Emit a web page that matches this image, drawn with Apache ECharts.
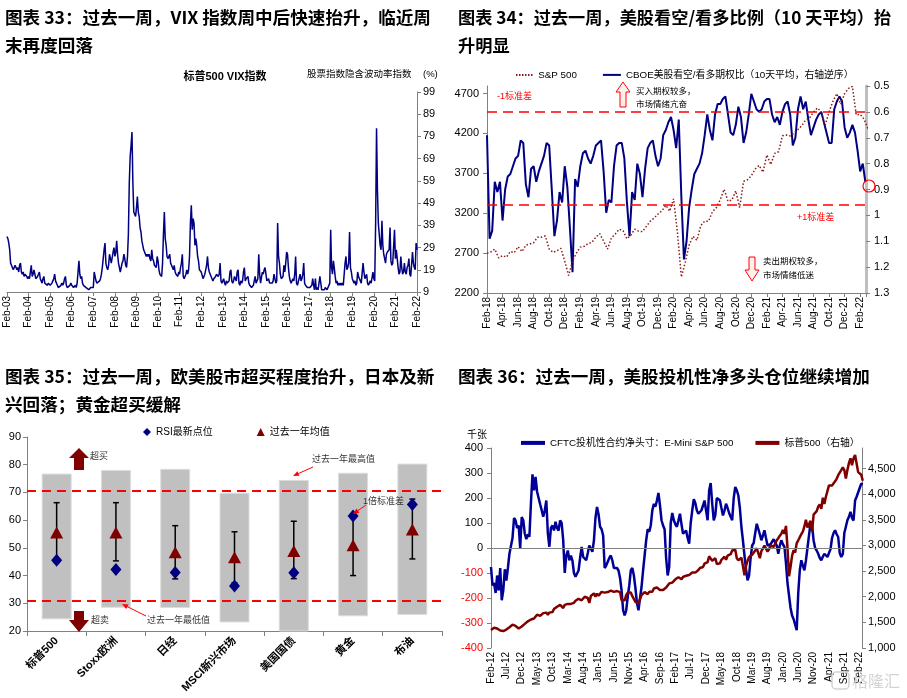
<!DOCTYPE html>
<html><head><meta charset="utf-8">
<script src="https://cdn.jsdelivr.net/npm/echarts@6/dist/echarts.min.js"></script>
<style>html,body{margin:0;padding:0;background:#fff}#c{width:907px;height:698px}</style>
</head><body><div id="c"></div>
<script>
// ---------------- DATA ----------------
// Panel 33: VIX, semi-monthly samples from Feb-03 (step 0.5 month)
const vixTicks = ['Feb-03','Feb-04','Feb-05','Feb-06','Feb-07','Feb-08','Feb-09','Feb-10','Feb-11','Feb-12','Feb-13','Feb-14','Feb-15','Feb-16','Feb-17','Feb-18','Feb-19','Feb-20','Feb-21','Feb-22'];
const vix = [
34,33,31,28,22,21,20,19,20,21,21,19,20,18,21,22,18,17,18,16,17,17,16,15,
16,15,18,21,16,17,19,17,15,15,16,17,18,15,14,13,15,16,13,13,13,12,13,13,
12,12,13,14,15,17,14,13,12,11,11,11,12,13,12,13,15,16,12,11,11,11,12,13,
12,12,11,11,12,11,13,18,23,17,15,16,13,12,12,12,11,11,11,10,10,11,11,11,
11,18,16,14,13,13,13,14,15,17,20,24,28,31,22,20,19,21,26,24,22,22,27,29,
25,27,32,26,22,20,18,18,22,23,26,24,21,20,25,35,58,70,75,81,58,45,45,43,
47,52,45,43,38,36,32,30,28,27,26,25,26,25,26,24,23,28,24,23,21,21,20,25,
23,19,17,17,16,22,35,45,33,30,25,24,25,26,22,22,20,19,21,18,17,17,16,18,
17,20,22,26,16,15,16,17,19,17,19,25,40,48,37,42,40,30,33,30,25,23,19,19,
18,18,15,15,17,19,21,25,20,18,17,16,15,14,15,15,16,17,17,16,17,22,14,13,
13,15,13,12,14,13,13,14,18,19,14,13,14,16,16,14,18,19,13,12,14,13,14,18,
20,14,15,15,16,13,12,12,11,11,12,14,16,13,13,15,26,17,13,13,18,17,19,20,
17,14,14,15,13,13,13,13,14,17,15,13,14,40,25,22,17,15,15,16,21,18,22,27,
26,20,16,14,13,13,15,14,17,25,13,12,12,12,17,14,15,17,22,13,12,12,11,11,
11,11,11,12,15,12,10,15,10,11,10,10,16,13,10,10,10,10,11,11,10,10,10,13,
37,20,17,23,20,16,13,14,12,13,12,13,12,13,12,12,22,25,19,20,22,36,20,18,
15,14,13,14,12,13,18,16,15,14,13,13,22,18,15,15,17,13,12,12,14,13,13,18,
15,14,40,82.7,55,40,35,30,28,41,30,26,24,22,26,27,27,28,38,23,21,22,22,37,
24,28,24,20,17,18,25,20,17,18,22,18,17,20,21,24,17,16,16,27,22,20,19,31,
28];

// S&P 500, semi-monthly from Feb-12 (step 0.5 month) - used in panels 34 and 36
const sp500 = [
1350,1365,1395,1405,1380,1400,1340,1310,1330,1360,1360,1385,1405,1410,1455,1445,1430,1410,1380,1410,1420,1420,
1470,1500,1520,1515,1555,1565,1575,1590,1650,1650,1625,1605,1680,1690,1690,1650,1690,1690,1700,1760,1790,1805,1780,1840,
1840,1780,1840,1855,1860,1870,1860,1880,1880,1920,1950,1960,1975,1930,1955,2000,1990,1975,1880,2015,2040,2065,2000,2060,
2020,1995,2095,2105,2080,2070,2090,2090,2120,2110,2095,2065,2110,2100,2090,1930,1960,1930,2030,2080,2060,2080,2010,2045,
1900,1930,1870,1950,2030,2060,2090,2070,2050,2095,2080,2095,2160,2170,2180,2170,2130,2165,2130,2125,2180,2200,2260,2240,
2275,2280,2340,2365,2380,2360,2340,2385,2395,2410,2435,2425,2460,2470,2470,2470,2500,2520,2560,2575,2580,2645,2680,2675,
2790,2825,2700,2715,2750,2640,2670,2650,2720,2705,2780,2720,2800,2815,2830,2900,2900,2915,2750,2710,2730,2760,2600,2420,
2600,2700,2775,2785,2820,2835,2900,2945,2850,2750,2890,2940,3000,2980,2880,2925,3000,2975,2970,3035,3100,3140,3190,3230,
3300,3225,3380,2955,2400,2585,2800,2910,2860,3045,3100,3100,3220,3270,3370,3500,3350,3365,3480,3270,3600,3620,3670,3755,
3800,3715,3930,3810,3950,3970,4170,4180,4170,4205,4250,4300,4370,4395,4470,4520,4470,4305,4470,4605,4700,4565,4700,4765,
4790,4430,4440,4380,4260];

// Panel 34: CBOE put/call ratio (10d avg), from Feb-18, step 1/3 month
const pcTicks = ['Feb-18','Apr-18','Jun-18','Aug-18','Oct-18','Dec-18','Feb-19','Apr-19','Jun-19','Aug-19','Oct-19','Dec-19','Feb-20','Apr-20','Jun-20','Aug-20','Oct-20','Dec-20','Feb-21','Apr-21','Jun-21','Aug-21','Oct-21','Dec-21','Feb-22'];
const pcRatio = [
0.69,1.09,1.06,0.87,0.91,0.87,1.02,0.90,0.85,0.84,
0.81,0.78,0.77,0.71,0.72,0.88,0.93,0.82,0.81,0.87,
0.83,0.80,0.77,0.72,0.73,0.90,1.08,1.02,0.91,0.95,
0.81,0.89,1.05,1.22,0.86,0.89,0.81,0.76,0.75,0.78,
0.80,0.77,0.73,0.72,0.71,0.83,0.99,0.94,0.95,0.81,
0.73,0.72,0.72,0.78,0.95,1.08,0.91,0.94,0.80,0.84,
0.93,0.82,0.74,0.72,0.71,0.77,0.81,0.78,0.69,0.67,
0.64,0.62,0.67,0.74,0.63,0.93,1.17,1.10,0.97,0.90,
0.84,0.82,0.80,0.76,0.69,0.61,0.67,0.71,0.61,0.57,
0.57,0.55,0.54,0.61,0.68,0.69,0.65,0.58,0.62,0.72,
0.68,0.61,0.53,0.56,0.59,0.60,0.59,0.56,0.55,0.55,
0.61,0.64,0.62,0.65,0.60,0.57,0.56,0.61,0.73,0.70,
0.59,0.54,0.59,0.56,0.63,0.69,0.66,0.63,0.61,0.60,
0.64,0.68,0.72,0.72,0.59,0.56,0.54,0.56,0.66,0.70,
0.68,0.65,0.68,0.75,0.83,0.80,0.87];
const pcStdLevels = [0.596, 0.957];

// Panel 35: RSI
const assets = ['标普500','Stoxx欧洲','日经','MSCI新兴市场','美国国债','黄金','布油'];
const rsiLatest = [45.5, 42.2, 41.1, 36.2, 41.0, 61.5, 65.6];
const yearMean  = [55.5, 55.5, 48.4, 46.6, 48.9, 50.9, 56.6];
const yearHigh  = [76.8, 78.1, 78.5, 69.9, 74.5, 77.1, 80.4];
const yearLow   = [24.2, 28.4, 28.3, 23.1, 19.8, 25.3, 25.8];
const stdUpper  = [66.3, 66.3, 58.0, 55.8, 59.6, 61.8, 67.6];
const stdLower  = [44.7, 45.3, 38.8, 37.4, 38.9, 40.0, 46.0];
const rsiBands  = [70.5, 30.8];

// Panel 36: CFTC net speculative position (k contracts), semi-monthly from Feb-12
const cftcTicks = ['Feb-12','Jul-12','Dec-12','May-13','Oct-13','Mar-14','Aug-14','Jan-15','Jun-15','Nov-15','Apr-16','Sep-16','Feb-17','Jul-17','Dec-17','May-18','Oct-18','Mar-19','Aug-19','Jan-20','Jun-20','Nov-20','Apr-21','Sep-21','Feb-22'];
const cftc = [
-76,-150,-140,-180,-110,-170,-80,-209,-169,-85,
-130,-80,-23,-25,40,120,110,80,90,0,
124,111,57,35,55,45,180,295,231,284,
225,200,175,151,125,150,190,60,5,80,
90,70,105,80,70,110,100,31,-100,-30,
-10,-49,-30,-50,-100,-115,-110,-90,-40,4,
-36,-40,-49,-20,10,5,-15,30,120,164,
135,85,75,50,-80,-70,-55,-40,-30,-50,
-80,-85,-80,-90,-120,-170,-249,-270,-250,-195,
-150,-90,-80,-110,-160,-220,-249,-200,-156,-90,
-30,30,75,65,90,150,177,165,190,220,
170,111,90,75,-40,-110,-76,100,140,111,
95,85,110,137,95,57,65,70,40,17,
100,150,195,180,150,137,145,151,170,190,
150,111,230,260,177,110,130,200,200,191,
160,130,150,177,160,140,125,111,200,244,
231,210,160,84,30,-30,-85,-129,-110,-40,
10,20,60,97,90,55,31,50,71,40,
10,8,15,20,35,40,10,-23,10,31,
15,5,-60,-140,-190,-240,-270,-285,-290,-329,
-180,-90,-49,-70,-89,-50,0,50,100,90,
30,0,-10,-23,-40,-49,-35,-23,-30,-36,
-20,-5,40,60,71,55,44,-20,-36,-25,
60,85,111,125,145,120,110,190,205,204,
240,257,255];

// ---------------- CHART ----------------
const FF = "'Liberation Sans', Arial, 'Noto Sans CJK SC', sans-serif";
const TF = "'Noto Sans CJK SC', 'Liberation Sans', sans-serif";
const GRAY = '#808080';
function tickFmt(labels, step) {
  return v => { const i = Math.round(v / step); return (Math.abs(v - i * step) < 1e-6 && labels[i]) ? labels[i] : ''; };
}
const baseAxisLine = {show: true, onZero: false, lineStyle: {color: GRAY, width: 1}};
const tick = {show: true, length: 4, lineStyle: {color: GRAY}};
function xVal(grid, max, interval, labels, extra) {
  return Object.assign({
    gridIndex: grid, type: 'value', min: 0, max: max, interval: interval,
    splitLine: {show: false}, axisLine: baseAxisLine, axisTick: tick,
    axisLabel: {rotate: 90, fontSize: 10, color: '#000', fontFamily: FF, margin: 4, formatter: tickFmt(labels, interval), showMinLabel: true, showMaxLabel: true, hideOverlap: false}
  }, extra || {});
}
function yVal(grid, pos, min, max, interval, extra, labelExtra) {
  return Object.assign({
    gridIndex: grid, type: 'value', position: pos, min: min, max: max, interval: interval,
    splitLine: {show: false}, axisLine: baseAxisLine, axisTick: tick,
    axisLabel: Object.assign({fontSize: 11, color: '#000', fontFamily: FF, margin: 6, formatter: v => String(v)}, labelExtra || {})
  }, extra || {});
}
// legend icon paths (line samples)
function solidIcon(w, h) { return 'path://M0,0H' + w + 'V' + h + 'H0Z'; }
function dottedIcon(w, h) { let p = 'path://'; for (let x = 0; x < w; x += 3) p += 'M' + x + ',0h1.5v' + h + 'h-1.5Z'; return p; }

const graphics = [];
function txt(x, y, text, o) {
  graphics.push({type: 'text', x: x, y: y, z: 100, silent: true, style: Object.assign({text: text, fill: '#000', fontSize: 10, fontFamily: FF, align: 'left', verticalAlign: 'middle'}, o || {})});
}
function arrow(x1, y1, x2, y2, color) {
  const a = Math.atan2(y2 - y1, x2 - x1), L = 6, W = 2.5;
  const bx = x2 - L * Math.cos(a), by = y2 - L * Math.sin(a);
  const px = -Math.sin(a) * W, py = Math.cos(a) * W;
  graphics.push({type: 'line', z: 100, silent: true, shape: {x1: x1, y1: y1, x2: bx, y2: by}, style: {stroke: color, lineWidth: 1}});
  graphics.push({type: 'polygon', z: 100, silent: true, shape: {points: [[x2, y2], [bx + px, by + py], [bx - px, by - py]]}, style: {fill: color}});
}
function poly(points, style) { graphics.push({type: 'polygon', z: 100, silent: true, shape: {points: points}, style: style}); }

// Panel 33 annotations
txt(225, 77, '标普500 VIX指数', {fontSize: 11, fontWeight: 'bold', align: 'center'});
txt(307, 74, '股票指数隐含波动率指数', {fontSize: 9.5});
txt(423, 74, '(%)', {fontSize: 9.5});
// Panel 34 annotations
txt(497, 97, '-1标准差', {fontSize: 9, fill: '#ff0000'});
txt(797, 218, '+1标准差', {fontSize: 9, fill: '#ff0000'});
poly([[623,82],[630,92],[626,92],[626,107],[620,107],[620,92],[616,92]], {fill: '#fff0f0', stroke: '#ff0000', lineWidth: 1});
txt(636, 92, '买入期权较多，', {fontSize: 8.5});
txt(636, 105, '市场情绪亢奋', {fontSize: 8.5});
poly([[749,257],[755,257],[755,270],[759,270],[752,281],[745,270],[749,270]], {fill: '#fff0f0', stroke: '#ff0000', lineWidth: 1});
txt(763, 262, '卖出期权较多，', {fontSize: 8.5});
txt(763, 276, '市场情绪低迷', {fontSize: 8.5});
graphics.push({type: 'circle', z: 100, silent: true, shape: {cx: 869, cy: 186, r: 6}, style: {fill: 'none', stroke: '#ff0000', lineWidth: 1.2}});
// Panel 35 annotations
poly([[79,448],[89,458],[84,458],[84,470],[74,470],[74,458],[69,458]], {fill: '#800000'});
txt(90, 457, '超买', {fontSize: 9, fill: '#333'});
poly([[74,611],[84,611],[84,620],[89,620],[79,632],[69,620],[74,620]], {fill: '#800000'});
txt(91, 621, '超卖', {fontSize: 9, fill: '#333'});
txt(312, 460, '过去一年最高值', {fontSize: 9, fill: '#333'});
arrow(313, 467, 293, 476, '#ff0000');
txt(147, 621, '过去一年最低值', {fontSize: 9, fill: '#333'});
arrow(146, 616, 122, 604, '#ff0000');
txt(363, 502, '1倍标准差', {fontSize: 9, fill: '#333'});
arrow(366, 505, 353, 514, '#ff0000');
// Panel 36 annotations
txt(467, 435, '千张', {fontSize: 10});
graphics.push({type: 'rect', z: 100, silent: true, shape: {x: 832, y: 672, width: 17, height: 17, r: 4}, style: {fill: 'none', stroke: '#d4d4d4', lineWidth: 1.5}});
txt(852, 681, '格隆汇', {fontSize: 16, fill: '#d4d4d4', fontFamily: TF});

const titleStyle = {fontSize: 17.6, fontWeight: 'bold', color: '#000', fontFamily: TF, lineHeight: 28};

const option = {
  animation: false,
  backgroundColor: '#fff',
  title: [
    {left: 5, top: 3, text: '图表 33：过去一周，VIX 指数周中后快速抬升，临近周\n末再度回落', textStyle: titleStyle, padding: 0},
    {left: 458, top: 3, text: '图表 34：过去一周，美股看空/看多比例（10 天平均）抬\n升明显', textStyle: Object.assign({}, titleStyle, {fontSize: 17.2}), padding: 0},
    {left: 5, top: 362, text: '图表 35：过去一周，欧美股市超买程度抬升，日本及新\n兴回落；黄金超买缓解', textStyle: titleStyle, padding: 0},
    {left: 458, top: 362, text: '图表 36：过去一周，美股投机性净多头仓位继续增加', textStyle: titleStyle, padding: 0}
  ],
  grid: [
    {left: 7, top: 92, width: 410, height: 200},
    {left: 487, top: 86, width: 379, height: 207},
    {left: 27, top: 437, width: 415, height: 194},
    {left: 491, top: 448, width: 371, height: 200}
  ],
  legend: [
    {left: 516, top: 70, itemWidth: 18, itemHeight: 2, itemGap: 26, padding: 0,
     textStyle: {fontSize: 9.8, color: '#000', fontFamily: FF},
     data: [{name: 'S&P 500', icon: dottedIcon(18, 2)},
            {name: 'CBOE美股看空/看多期权比（10天平均，右轴逆序）', icon: solidIcon(18, 2)}]},
    {left: 143, top: 427, itemWidth: 8, itemHeight: 8, itemGap: 44, padding: 0,
     textStyle: {fontSize: 10, color: '#000', fontFamily: FF},
     data: [{name: 'RSI最新点位', icon: 'diamond'}, {name: '过去一年均值', icon: 'triangle'}]},
    {left: 521, top: 438, itemWidth: 24, itemHeight: 4, itemGap: 22, padding: 0,
     textStyle: {fontSize: 9.8, color: '#000', fontFamily: FF},
     data: [{name: 'CFTC投机性合约净头寸：E-Mini S&P 500', icon: solidIcon(24, 4)},
            {name: '标普500（右轴）', icon: solidIcon(24, 4)}]}
  ],
  xAxis: [
    xVal(0, 228, 12, vixTicks),
    xVal(1, 48.75, 2, pcTicks),
    {gridIndex: 2, type: 'category', data: assets, boundaryGap: true,
     axisLine: baseAxisLine, axisTick: {show: true, length: 5, alignWithLabel: false, lineStyle: {color: GRAY}},
     axisLabel: {rotate: 45, interval: 0, fontSize: 11, fontWeight: 'bold', color: '#000', fontFamily: FF, margin: 8}},
    xVal(3, 120.75, 5, cftcTicks, {axisLine: {show: false, onZero: false}, axisTick: {show: false}})
  ],
  yAxis: [
    yVal(0, 'right', 9, 99, 10),
    yVal(1, 'left', 2200, 4795, 500, null, {showMaxLabel: false, margin: 8}),
    yVal(1, 'right', 0.5, 1.3, 0.1, {inverse: true, axisLine: {show: true, onZero: false, lineStyle: {color: '#bfbfbf', width: 3}}},
         {formatter: v => String(+v.toFixed(1)), margin: 8}),
    yVal(2, 'left', 20, 90, 10, null, {margin: 6}),
    yVal(3, 'left', -400, 400, 100, null, {margin: 8, color: v => (v < 0 ? '#ff0000' : '#000')}),
    yVal(3, 'right', 1000, 4900, 500, null, {showMaxLabel: false, margin: 6, formatter: v => v.toLocaleString('en-US')})
  ],
  series: [
    {name: 'VIX', type: 'line', xAxisIndex: 0, yAxisIndex: 0, symbol: 'none',
     data: vix.map((v, i) => [i * 0.5, v]),
     lineStyle: {color: '#000080', width: 1.5}, itemStyle: {color: '#000080'}},
    {name: 'S&P 500', type: 'line', xAxisIndex: 1, yAxisIndex: 1, symbol: 'none', z: 3,
     data: sp500.slice(144).map((v, i) => [i * 0.5, v]),
     lineStyle: {color: '#8b1a1a', width: 1.5, type: [1.5, 2]}, itemStyle: {color: '#8b1a1a'}},
    {name: 'CBOE美股看空/看多期权比（10天平均，右轴逆序）', type: 'line', xAxisIndex: 1, yAxisIndex: 2, symbol: 'none', z: 2,
     data: pcRatio.map((v, i) => [i / 3, v]),
     lineStyle: {color: '#000080', width: 2}, itemStyle: {color: '#000080'},
     markLine: {silent: true, symbol: 'none', label: {show: false}, animation: false,
                lineStyle: {color: '#ff0000', type: [10, 6], width: 1.5},
                data: pcStdLevels.map(v => ({yAxis: v}))}},
    {name: 'base', type: 'bar', xAxisIndex: 2, yAxisIndex: 3, stack: 'range', barWidth: 30, z: 1,
     data: yearLow, itemStyle: {color: 'rgba(0,0,0,0)'}, silent: true},
    {name: 'range', type: 'bar', xAxisIndex: 2, yAxisIndex: 3, stack: 'range', barWidth: 30, z: 1,
     data: yearHigh.map((h, i) => +(h - yearLow[i]).toFixed(2)),
     itemStyle: {color: '#c0c0c0', borderColor: '#dcdcdc', borderWidth: 1}, silent: true,
     markLine: {silent: true, symbol: 'none', label: {show: false}, animation: false,
                lineStyle: {color: '#ff0000', type: [9, 6], width: 2},
                data: rsiBands.map(v => ({yAxis: v}))}},
    {name: 'std', type: 'custom', xAxisIndex: 2, yAxisIndex: 3, z: 3,
     data: stdUpper.map((u, i) => [i, u, stdLower[i]]),
     encode: {x: 0, y: [1, 2]},
     renderItem: (params, api) => {
       const hi = api.coord([api.value(0), api.value(1)]);
       const lo = api.coord([api.value(0), api.value(2)]);
       const st = {stroke: '#000', lineWidth: 1.5};
       return {type: 'group', children: [
         {type: 'line', shape: {x1: hi[0], y1: hi[1], x2: lo[0], y2: lo[1]}, style: st},
         {type: 'line', shape: {x1: hi[0] - 3, y1: hi[1], x2: hi[0] + 3, y2: hi[1]}, style: st},
         {type: 'line', shape: {x1: lo[0] - 3, y1: lo[1], x2: lo[0] + 3, y2: lo[1]}, style: st}
       ]};
     }},
    {name: '过去一年均值', type: 'scatter', xAxisIndex: 2, yAxisIndex: 3, z: 4,
     symbol: 'triangle', symbolSize: [13, 12], data: yearMean, itemStyle: {color: '#800000', opacity: 1}},
    {name: 'RSI最新点位', type: 'scatter', xAxisIndex: 2, yAxisIndex: 3, z: 5,
     symbol: 'diamond', symbolSize: [11, 13], data: rsiLatest, itemStyle: {color: '#000080', opacity: 1}},
    {name: 'CFTC投机性合约净头寸：E-Mini S&P 500', type: 'line', xAxisIndex: 3, yAxisIndex: 4, symbol: 'none', z: 2,
     data: cftc.map((v, i) => [i * 0.5, v]),
     lineStyle: {color: '#000099', width: 2.5}, itemStyle: {color: '#000099'},
     markLine: {silent: true, symbol: 'none', label: {show: false}, animation: false,
                lineStyle: {color: GRAY, type: 'solid', width: 1}, data: [{yAxis: 0}]}},
    {name: '标普500（右轴）', type: 'line', xAxisIndex: 3, yAxisIndex: 5, symbol: 'none', z: 3,
     data: sp500.map((v, i) => [i * 0.5, v]),
     lineStyle: {color: '#800000', width: 2.5}, itemStyle: {color: '#800000'}}
  ],
  graphic: graphics
};
const chart = echarts.init(document.getElementById('c'), null, {renderer: 'canvas'});
chart.setOption(option);
</script></body></html>
